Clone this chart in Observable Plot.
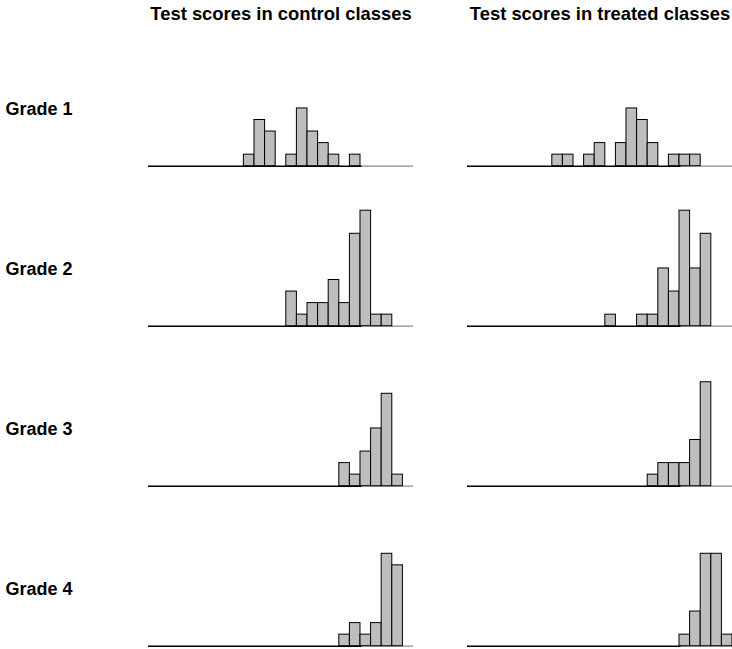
<!DOCTYPE html>
<html>
<head>
<meta charset="utf-8">
<script src="https://cdn.jsdelivr.net/npm/d3@7"></script>
<script src="https://cdn.jsdelivr.net/npm/@observablehq/plot@0.6"></script>
<style>
  html, body { margin: 0; padding: 0; background: white; overflow: hidden; }
  #chart svg { display: block; max-width: none; }
</style>
</head>
<body>
<div id="chart"></div>
<script>
// Bin starts (bin width 5 score points)
const bins = [40, 45, 50, 55, 60, 65, 70, 75, 80, 85, 90, 95, 100, 105, 110, 115, 120];
const binWidth = 5;

// Counts per bin, by grade
const control1 = [0, 1, 4, 3, 0, 1, 5, 3, 2, 1, 0, 1, 0, 0, 0, 0, 0];
const treated1 = [1, 1, 0, 1, 2, 0, 2, 5, 4, 2, 0, 1, 1, 1, 0, 0, 0];
const control2 = [0, 0, 0, 0, 0, 3, 1, 2, 2, 4, 2, 8, 10, 1, 1, 0, 0];
const treated2 = [0, 0, 0, 0, 0, 1, 0, 0, 1, 1, 5, 3, 10, 5, 8, 0, 0];
const control3 = [0, 0, 0, 0, 0, 0, 0, 0, 0, 0, 2, 1, 3, 5, 8, 1, 0];
const treated3 = [0, 0, 0, 0, 0, 0, 0, 0, 0, 1, 2, 2, 2, 4, 9, 0, 0];
const control4 = [0, 0, 0, 0, 0, 0, 0, 0, 0, 0, 1, 2, 1, 2, 8, 7, 0];
const treated4 = [0, 0, 0, 0, 0, 0, 0, 0, 0, 0, 0, 0, 1, 3, 8, 8, 1];

const groups = ["control", "treated"];
const groupTitles = ["Test scores in control classes", "Test scores in treated classes"];
const grades = [1, 2, 3, 4];
const gradeLabels = ["Grade 1", "Grade 2", "Grade 3", "Grade 4"];

const counts = {
  control: [control1, control2, control3, control4],
  treated: [treated1, treated2, treated3, treated4]
};

const rows = [];
for (const g of groups) {
  grades.forEach((grade, gi) => {
    counts[g][gi].forEach((c, bi) => {
      if (c > 0) rows.push({group: g, grade, bin: bins[bi], count: c});
    });
  });
}

const titleRows = groups.map((g, i) => ({group: g, grade: 1, label: groupTitles[i]}));
const gradeRows = grades.map((gr, i) => ({group: "control", grade: gr, label: gradeLabels[i]}));

const font = "'Liberation Sans', Arial, Helvetica, sans-serif";

const chart = Plot.plot({
  width: 732,
  height: 649,
  marginLeft: 148,
  marginRight: 0,
  marginTop: 25.7,
  marginBottom: 3.3,
  style: {fontFamily: font, background: "white", overflow: "visible"},
  fx: {domain: groups, axis: null, paddingInner: 0.1693, paddingOuter: 0, round: false},
  fy: {domain: grades, axis: null, paddingInner: 0.125, paddingOuter: 0, round: false},
  x: {domain: [0, 125], axis: null},
  y: {domain: [0, 12.12], axis: null},
  marks: [
    Plot.ruleY([0], {x1: 100, x2: 125, stroke: "#8c8c8c", strokeWidth: 1.2}),
    Plot.ruleY([0], {x1: 0, x2: 100.7, stroke: "black", strokeWidth: 1.4}),
    Plot.rectY(rows, {
      x1: "bin",
      x2: d => d.bin + binWidth,
      y: "count",
      fx: "group",
      fy: "grade",
      fill: "#bebebe",
      stroke: "black",
      strokeWidth: 1
    }),
    Plot.text(titleRows, {
      fx: "group",
      fy: "grade",
      text: "label",
      frameAnchor: "top",
      lineAnchor: "middle",
      dy: -11.7,
      fontSize: 18.4,
      fontWeight: "bold",
      fill: "black"
    }),
    Plot.text(gradeRows, {
      fx: "group",
      fy: "grade",
      text: "label",
      frameAnchor: "bottom-left",
      textAnchor: "start",
      lineAnchor: "middle",
      dx: -143,
      dy: -57,
      fontSize: 18,
      fontWeight: "bold",
      fill: "black"
    })
  ]
});

document.getElementById("chart").appendChild(chart);
</script>
</body>
</html>
